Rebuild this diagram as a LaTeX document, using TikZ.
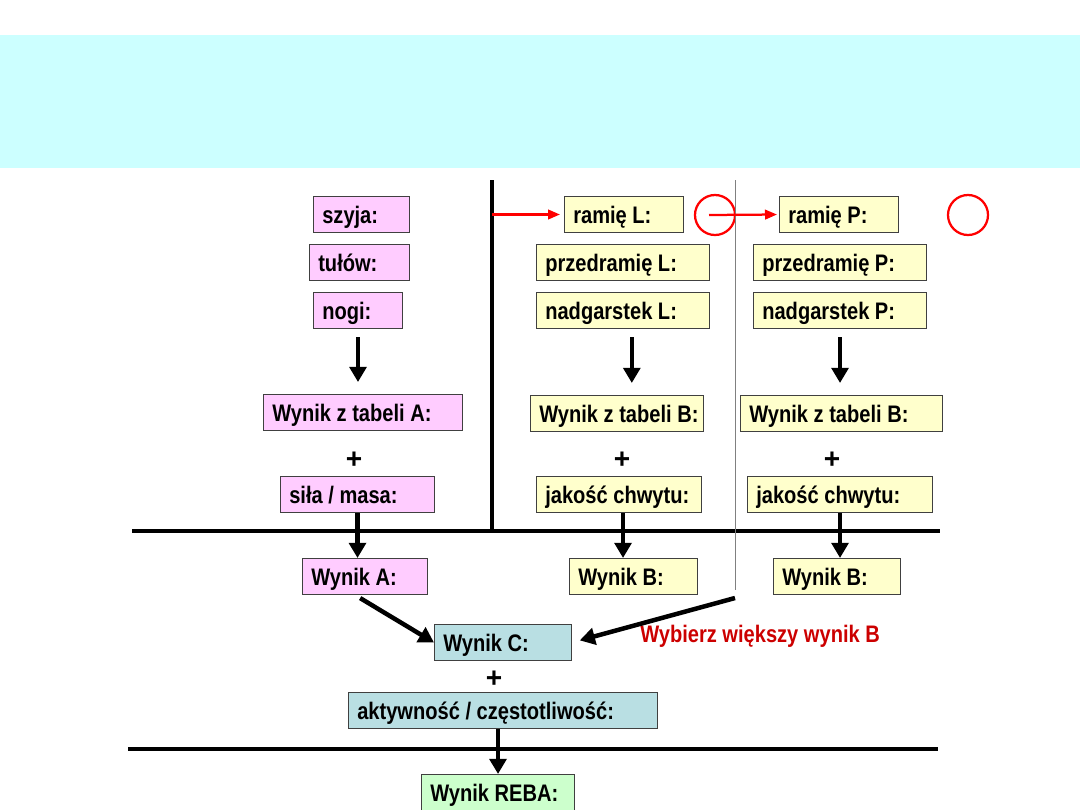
\documentclass[tikz,border=0pt]{standalone}
\usepackage{fontspec}
\setmainfont{Liberation Sans}
\newfontfamily\cellfont[FakeStretch=0.84]{Liberation Sans}
\usetikzlibrary{arrows.meta}
\definecolor{bandcyan}{HTML}{CCFFFF}
\definecolor{pinkfill}{HTML}{FFCCFF}
\definecolor{yellowfill}{HTML}{FFFFCC}
\definecolor{tealfill}{HTML}{B9DFE3}
\definecolor{greenfill}{HTML}{CCFFCC}
\definecolor{redtext}{HTML}{CC0000}

\begin{document}
\begin{tikzpicture}[x=0.025cm, y=-0.025cm,
    cell/.style={draw=black!75, line width=0.7pt, anchor=north west, minimum height=0.9cm,
        inner xsep=0.1cm, inner ysep=0pt, text width=#1, text height=0.5cm, text depth=0.04cm, align=flush left,
        font=\cellfont\bfseries\fontsize{17}{19}\selectfont, execute at begin node=\hspace*{0.12cm}},
    pinkcell/.style={cell=#1, fill=pinkfill},
    yellowcell/.style={cell=#1, fill=yellowfill},
    tealcell/.style={cell=#1, fill=tealfill},
    greencell/.style={cell=#1, fill=greenfill},
    plus/.style={font=\bfseries\fontsize{20}{22}\selectfont, inner sep=0pt},
    bigarrow/.style={line width=3.2pt, -{Triangle[length=0.38cm,width=0.42cm]}},
    redarrow/.style={red, line width=1.6pt, -{Triangle[length=0.3cm,width=0.24cm]}},
    ring/.style={circle, draw=red, line width=1.6pt, minimum size=1.0cm, inner sep=0pt}]
    \useasboundingbox (0,0) rectangle (1080,810);
    \fill[bandcyan] (0,35) rectangle (1080,168);

    % Nodes
    \node[pinkcell=2.2cm] (szyja) at (313,196) {szyja:};
    \node[pinkcell=2.3cm] (tulow) at (309,244) {tułów:};
    \node[pinkcell=2.025cm] (nogi) at (313,292) {nogi:};
    \node[pinkcell=4.775cm] (tabA) at (263,394) {Wynik z tabeli A:};
    \node[plus] (plusA) at (354,460) {+};
    \node[pinkcell=3.65cm] (sila) at (280,476) {siła / masa:};
    \node[pinkcell=2.925cm] (wynikA) at (302,558) {Wynik A:};

    \node[yellowcell=2.775cm] (ramL) at (564,196) {ramię L:};
    \node[yellowcell=4.125cm] (przedL) at (536,244) {przedramię L:};
    \node[yellowcell=4.125cm] (nadgL) at (536,292) {nadgarstek L:};
    \node[yellowcell=4.125cm] (tabL) at (530,395) {Wynik z tabeli B:};
    \node[plus] (plusL) at (622,460) {+};
    \node[yellowcell=3.925cm] (chwytL) at (536,476) {jakość chwytu:};
    \node[yellowcell=3.0cm] (wynikL) at (569,558) {Wynik B:};

    \node[yellowcell=2.775cm] (ramP) at (779,196) {ramię P:};
    \node[yellowcell=4.125cm] (przedP) at (753,244) {przedramię P:};
    \node[yellowcell=4.125cm] (nadgP) at (753,292) {nadgarstek P:};
    \node[yellowcell=4.85cm] (tabP) at (740,395) {Wynik z tabeli B:};
    \node[plus] (plusP) at (832,460) {+};
    \node[yellowcell=4.425cm] (chwytP) at (747,476) {jakość chwytu:};
    \node[yellowcell=2.975cm] (wynikP) at (773,558) {Wynik B:};

    \node[tealcell=3.225cm] (wynikC) at (434,624) {Wynik C:};
    \node[plus] (plusC) at (494,679) {+};
    \node[tealcell=7.525cm] (aktyw) at (348,692) {aktywność / częstotliwość:};
    \node[greencell=3.625cm] (reba) at (421,774) {Wynik REBA:};

    \node[anchor=west, text=redtext, inner sep=0pt, font=\cellfont\bfseries\fontsize{17}{19}\selectfont] (pick) at (640,636) {Wybierz większy wynik B};

    \node[ring] (ringL) at (715,215) {};
    \node[ring] (ringP) at (968,215) {};

    % Lines
    \coordinate (bar) at (492,180);
    \coordinate (sepbot) at (735,598);
    \draw[line width=3.5pt] (132,531) -- (940,531);
    \draw[line width=3.5pt] (bar) -- (492,531);
    \draw[gray, line width=0.6pt] (735,180) -- (735,590);
    \draw[line width=3.5pt] (128,749) -- (938,749);

    % Edges
    \draw[bigarrow, shorten <=0.2cm, shorten >=0.3cm] (nogi.south) -- (nogi.south |- tabA.north);
    \draw[bigarrow, shorten <=0.2cm, shorten >=0.3cm] ([xshift=0.22cm]nadgL.south) -- ([xshift=0.22cm]nadgL.south |- tabL.north);
    \draw[bigarrow, shorten <=0.2cm, shorten >=0.3cm] (nadgP.south) -- (nadgP.south |- tabP.north);
    \draw[bigarrow] (sila.south) -- (sila.south |- wynikA.north);
    \draw[bigarrow] ([xshift=0.1cm]chwytL.south) -- ([xshift=0.1cm]chwytL.south |- wynikL.north);
    \draw[bigarrow] (chwytP.south) -- (chwytP.south |- wynikP.north);
    \draw[bigarrow, shorten <=0.15cm] ([xshift=-0.25cm]wynikA.south) -- (wynikC.west);
    \draw[bigarrow, shorten >=0.2cm] (sepbot) -- (wynikC.east);
    \draw[bigarrow] (reba.north |- aktyw.south) -- (reba.north);
    \draw[redarrow, shorten >=0.1cm] (bar |- ramL.west) -- (ramL.west);
    \draw[redarrow, shorten >=0.05cm] ([xshift=-0.15cm]ringL.center) -- (ramP.west);
\end{tikzpicture}
\end{document}
